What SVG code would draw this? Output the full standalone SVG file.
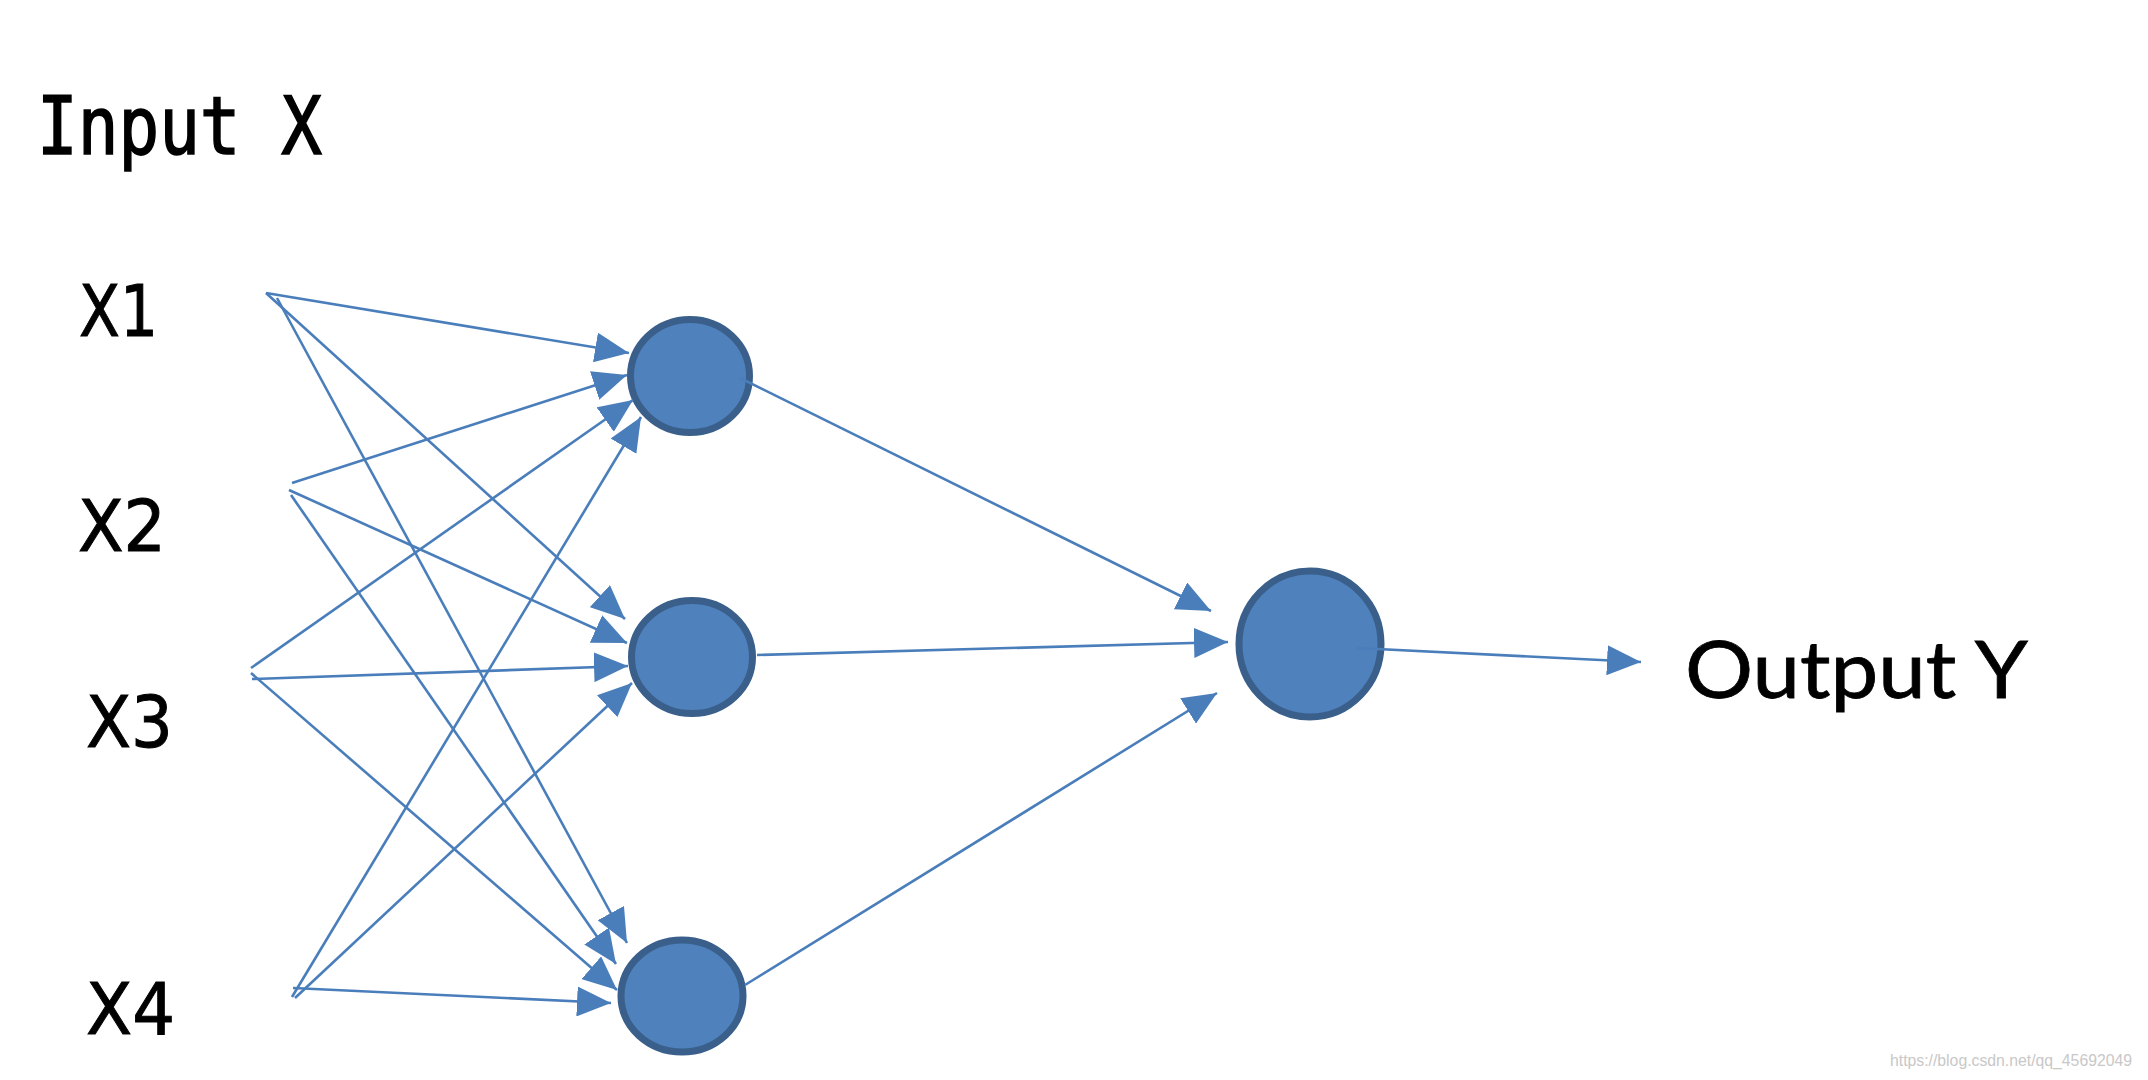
<svg xmlns="http://www.w3.org/2000/svg" width="2148" height="1080" viewBox="0 0 2148 1080">
<style>
.node{fill:#4F81BD;stroke:#3A5F8B;stroke-width:7}
.edge{stroke:#4A7EBB;stroke-width:2.6;fill:none;marker-end:url(#arr)}
.lbl{font-family:"DejaVu Sans",sans-serif;font-size:72px;fill:#000;stroke:#000;stroke-width:1}
.title{font-family:"DejaVu Sans Mono",monospace;font-size:80px;fill:#000;stroke:#000;stroke-width:1.6}
.out{font-family:Lato,"DejaVu Sans",sans-serif;font-size:80px;fill:#000;stroke:#000;stroke-width:0.8}
.wm{font-family:"Liberation Sans",sans-serif;font-size:16px;fill:#c8c8c8}
</style>
<defs>
<marker id="arr" viewBox="0 0 34 30" refX="34" refY="15" markerWidth="34" markerHeight="30" markerUnits="userSpaceOnUse" orient="auto">
<path d="M0,0 L34,15 L0,30 Z" fill="#4A7EBB"/>
</marker>
</defs>
<rect width="2148" height="1080" fill="#fff"/>
<g id="labels">
<text class="title" x="37" y="154" textLength="285" lengthAdjust="spacingAndGlyphs">Input X</text>
</g>
<g id="x1"><text class="lbl" x="79" y="336" textLength="79" lengthAdjust="spacingAndGlyphs">X1</text></g>
<g id="x2"><text class="lbl" x="78" y="551" textLength="88" lengthAdjust="spacingAndGlyphs">X2</text></g>
<g id="x3"><text class="lbl" x="86" y="747" textLength="87" lengthAdjust="spacingAndGlyphs">X3</text></g>
<g id="x4"><text class="lbl" x="86" y="1034" textLength="89" lengthAdjust="spacingAndGlyphs">X4</text></g>
<g id="h1"><ellipse class="node" cx="690" cy="376" rx="59.5" ry="56.5"/></g>
<g id="h2"><ellipse class="node" cx="692" cy="657" rx="60.5" ry="56.5"/></g>
<g id="h3"><ellipse class="node" cx="682" cy="996" rx="61" ry="56"/></g>
<g id="o"><ellipse class="node" cx="1310" cy="644" rx="71" ry="73"/></g>
<g id="output"><text class="out" x="1685" y="698" textLength="343" lengthAdjust="spacingAndGlyphs">Output Y</text></g>
<g id="connectors">
<line class="edge" x1="266" y1="293" x2="629" y2="353"/>
<line class="edge" x1="266" y1="293" x2="625" y2="619"/>
<line class="edge" x1="277" y1="298" x2="627" y2="943"/>
<line class="edge" x1="292" y1="483" x2="627" y2="375"/>
<line class="edge" x1="289" y1="490" x2="627" y2="643"/>
<line class="edge" x1="291" y1="495" x2="616" y2="964"/>
<line class="edge" x1="251" y1="668" x2="633" y2="400"/>
<line class="edge" x1="252" y1="679" x2="628" y2="666"/>
<line class="edge" x1="251" y1="673" x2="617" y2="990"/>
<line class="edge" x1="292" y1="997" x2="641" y2="417"/>
<line class="edge" x1="295" y1="998" x2="632" y2="683"/>
<line class="edge" x1="293" y1="988" x2="611" y2="1003"/>
<line class="edge" x1="740" y1="378" x2="1211" y2="611"/>
<line class="edge" x1="757" y1="655" x2="1228" y2="642"/>
<line class="edge" x1="745" y1="985" x2="1217" y2="693"/>
<line class="edge" x1="1357" y1="648" x2="1641" y2="662"/>
</g>
<text class="wm" x="1890" y="1066" textLength="242" lengthAdjust="spacingAndGlyphs">https://blog.csdn.net/qq_45692049</text>
</svg>
